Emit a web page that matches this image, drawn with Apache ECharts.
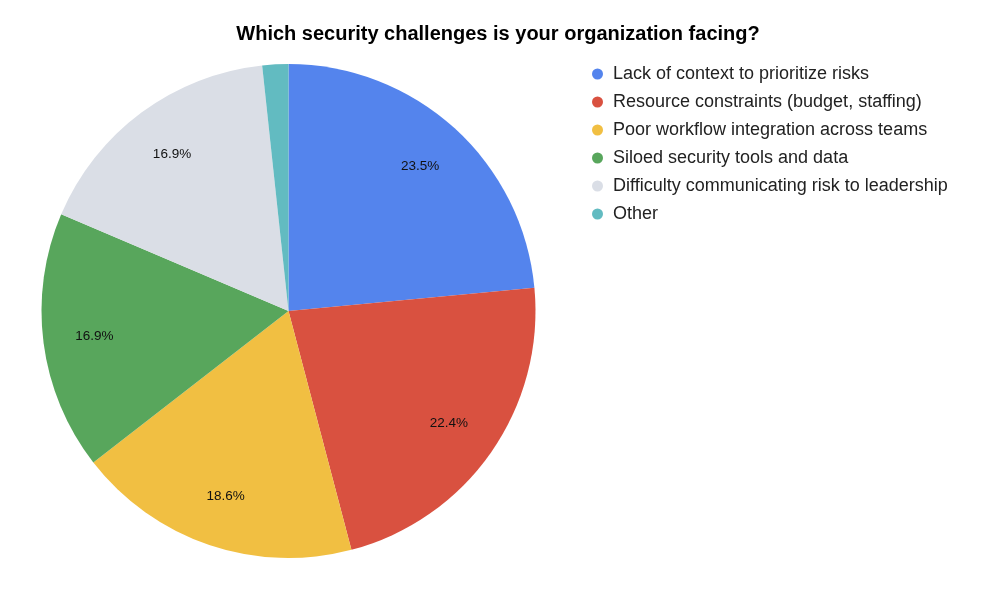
<!DOCTYPE html>
<html lang="en">
<head>
<meta charset="UTF-8">
<title>Security challenges</title>
<script src="https://cdn.jsdelivr.net/npm/echarts@6/dist/echarts.min.js"></script>
<style>
  html, body { margin: 0; padding: 0; background: #fff; }
  #main { width: 996px; height: 593px; }
</style>
</head>
<body>
<div id="main"></div>
<script type="text/javascript">
// data
var categories = [
    'Lack of context to prioritize risks',
    'Resource constraints (budget, staffing)',
    'Poor workflow integration across teams',
    'Siloed security tools and data',
    'Difficulty communicating risk to leadership',
    'Other'
];
var shares = [23.5, 22.4, 18.6, 16.9, 16.9, 1.7];
var colors = ['#5484ED', '#D95140', '#F1BF42', '#58A65C', '#DADEE6', '#62BBC1'];

var pieData = categories.map(function (name, i) {
    return { name: name, value: shares[i] };
});

var myChart = echarts.init(document.getElementById('main'));
var R = 247;
myChart.setOption({
    color: colors,
    animation: false,
    title: {
        text: 'Which security challenges is your organization facing?',
        left: 'center',
        top: 19,
        textStyle: { fontFamily: 'Liberation Sans', fontSize: 20, fontWeight: 'bold', color: '#000' }
    },
    legend: {
        orient: 'vertical',
        left: 587,
        top: 60,
        padding: 5,
        icon: 'circle',
        itemWidth: 11,
        itemHeight: 11,
        itemGap: 10,
        data: categories,
        textStyle: { fontFamily: 'Liberation Sans', fontSize: 18, lineHeight: 18, color: '#222', padding: [0, 0, 0, 5] }
    },
    series: [{
        // filled slices
        type: 'pie',
        center: [288.5, 311],
        radius: [0, R],
        startAngle: 90,
        clockwise: true,
        label: { show: false },
        labelLine: { show: false },
        itemStyle: { borderWidth: 0 },
        emphasis: { disabled: true },
        data: pieData
    }, {
        // transparent ring that only carries the percentage labels
        type: 'pie',
        center: [288.5, 311],
        radius: [R * 0.56, R],
        startAngle: 90,
        clockwise: true,
        silent: true,
        itemStyle: { color: 'rgba(0,0,0,0)', borderWidth: 0 },
        label: {
            position: 'inside',
            fontFamily: 'Liberation Sans',
            fontSize: 13.5,
            color: '#111',
            formatter: function (p) {
                return p.value < 5 ? '' : p.value.toFixed(1) + '%';
            }
        },
        labelLine: { show: false },
        emphasis: { disabled: true },
        data: pieData
    }]
});
</script>
</body>
</html>
